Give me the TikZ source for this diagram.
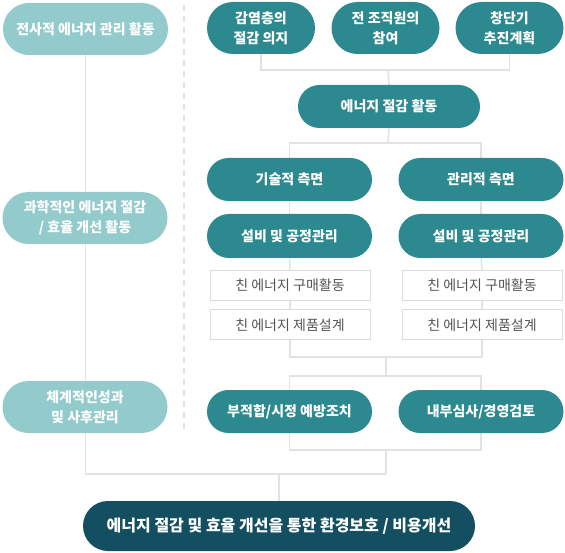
\documentclass[tikz,border=0pt]{standalone}
\usepackage{fontspec}
\setmainfont{Noto Sans CJK KR}
\usepackage{xcolor}
\usetikzlibrary{shapes.misc, backgrounds}

\definecolor{lightteal}{HTML}{93CBCD}
\definecolor{darkteal}{HTML}{2C8990}
\definecolor{navy}{HTML}{134F60}
\definecolor{linegray}{HTML}{E2E2E2}
\definecolor{boxgray}{HTML}{DCDCDC}
\definecolor{textgray}{HTML}{555555}

\begin{document}
\begin{tikzpicture}[
  x=1pt, y=-1pt,
  pill/.style={rounded rectangle, fill=darkteal, text=white, align=center,
               font=\fontsize{14}{20}\selectfont\bfseries, inner sep=0pt,
               minimum width=165pt, minimum height=43pt},
  sidepill/.style={pill, fill=lightteal, minimum height=52pt},
  toppill/.style={pill, minimum width=108pt, minimum height=52pt},
  itembox/.style={draw=boxgray, line width=1pt, fill=white, text=textgray,
                  font=\fontsize{14}{18}\selectfont, inner sep=0pt,
                  minimum width=160pt, minimum height=30pt},
  link/.style={draw=linegray, line width=1.5pt},
]
  \useasboundingbox (0,0) rectangle (565,553);

  % left column
  \node[sidepill] (plan)  at (85.5,29)  {전사적 에너지 관리 활동};
  \node[sidepill] (sci)   at (85,218)   {과학적인 에너지 절감\\/ 효율 개선 활동};
  \node[sidepill] (sys)   at (85,407)   {체계적인성과\\및 사후관리};

  % separator
  \draw[linegray, line width=1.5pt, dash pattern=on 6pt off 5pt] (184,5) -- (184,430);

  % top row
  \node[toppill] (will)  at (261,28)   {감염층의\\절감 의지};
  \node[toppill] (staff) at (385.5,28) {전 조직원의\\참여};
  \node[toppill] (sched) at (509.5,28) {창단기\\추진계획};

  \node[pill, minimum width=182pt] (save) at (389,106.5) {에너지 절감 활동};

  \node[pill] (tech) at (289.5,179.5) {기술적 측면};
  \node[pill] (mgmt) at (481,179.5)   {관리적 측면};
  \node[pill, minimum height=44pt] (techeq) at (289.5,236) {설비 및 공정관리};
  \node[pill, minimum height=44pt] (mgmteq) at (481,236)   {설비 및 공정관리};

  \node[itembox] (techbuy) at (290,285.5) {친 에너지 구매활동};
  \node[itembox] (techdes) at (290,325)   {친 에너지 제품설계};
  \node[itembox] (mgmtbuy) at (482,285.5) {친 에너지 구매활동};
  \node[itembox] (mgmtdes) at (482,325)   {친 에너지 제품설계};

  \node[pill] (fix)   at (289.5,411.5) {부적합/시정 예방조치};
  \node[pill] (audit) at (481,411.5)   {내부심사/경영검토};

  \node[pill, fill=navy, minimum width=392pt, minimum height=50pt,
        font=\fontsize{16}{20}\selectfont\bfseries] (goal) at (279,526)
        {에너지 절감 및 효율 개선을 통한 환경보호 / 비용개선};

  % connectors
  \coordinate (hubtop)  at (388,70);
  \coordinate (hubsave) at (388,143);
  \coordinate (hubitem) at (386,357);
  \coordinate (ringtop) at (386,376);
  \coordinate (ringbot) at (386,450);
  \coordinate (hubgoal) at (386,474);

  \begin{scope}[on background layer]
    \draw[link] (will.south) |- (hubtop) -| (sched.south);
    \draw[link] (hubtop) -- (save.north);
    \draw[link] (save.south) -- (hubsave);
    \draw[link] (tech.north) |- (hubsave) -| (mgmt.north);
    \draw[link] (tech.south) -- (techeq.north);
    \draw[link] (mgmt.south) -- (mgmteq.north);
    \draw[link] (techeq.south) -- (techbuy.north);
    \draw[link] (mgmteq.south) -- (mgmtbuy.north);
    \draw[link] (techbuy.south) -- (techdes.north);
    \draw[link] (mgmtbuy.south) -- (mgmtdes.north);
    \draw[link] (techdes.south) |- (hubitem) -| (mgmtdes.south);
    \draw[link] (hubitem) -- (ringtop);
    \draw[link] (fix.center) |- (ringtop) -| (audit.center);
    \draw[link] (fix.center) |- (ringbot) -| (audit.center);
    \draw[link] (ringbot) -- (hubgoal);
    \draw[link] (plan.south) |- (hubgoal);
    \draw[link] (goal.north) -- (goal.north |- hubgoal);
  \end{scope}
\end{tikzpicture}
\end{document}
